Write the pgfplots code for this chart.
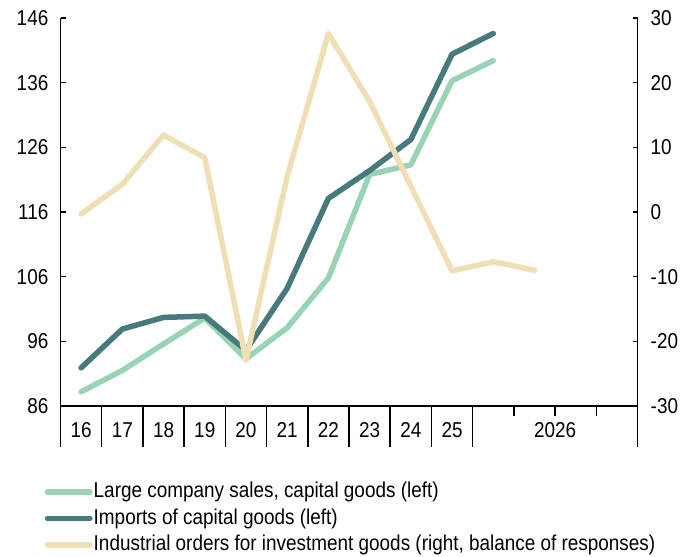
\documentclass[border=0pt]{standalone}
\usepackage{fontspec}
\setmainfont[FakeStretch=0.88]{Liberation Sans}
\usepackage{pgfplots}
\pgfplotsset{compat=1.18}
\definecolor{cgreen}{RGB}{152,211,182}
\definecolor{cdark}{RGB}{70,122,124}
\definecolor{cbeige}{RGB}{240,222,180}
\begin{document}
\fontsize{21.5}{25}\selectfont
\begin{tikzpicture}
\useasboundingbox (0,0) rectangle (684pt,556pt);
\pgfplotsset{
  every axis/.append style={
    scale only axis, width=577pt, height=388pt,
    at={(60.5pt,150pt)}, anchor=south west,
    xmin=0, xmax=14, clip=false,
    /pgf/number format/assume math mode=true,
    axis line style={line width=1.5pt},
    every tick/.append style={black, line width=1.5pt},
    major tick length=5pt,
    every non boxed y axis/.append style={ytick align=outside},
    every non boxed x axis/.append style={xtick align=outside},
  },
  mystyle/.style={line width=5.5pt, line cap=round, line join=round},
}
\begin{axis}[
  axis y line*=left, axis x line*=bottom,
  ymin=86, ymax=146, ytick={86,96,...,146},
  xtick={0.5,1.5,...,9.5,12},
  xticklabels={16,17,18,19,20,21,22,23,24,25,2026},
  xtick style={draw=none},
  xticklabel style={anchor=center, yshift=-24pt},
  yticklabel style={anchor=east, inner sep=0pt, xshift=-12pt},
]
\pgfplotsinvokeforeach{0,1,2,3,4,5,6,7,8,9,10,14}{
  \draw[line width=1.5pt] (axis cs:#1,86) -- ([yshift=-41pt]axis cs:#1,86);
}
\pgfplotsinvokeforeach{11,12,13}{
  \draw[line width=1.5pt] (axis cs:#1,86) -- ([yshift=-10pt]axis cs:#1,86);
}
\addplot[mystyle, cgreen] coordinates {
  (0.5,88.2) (1.5,91.5) (2.5,95.6) (3.5,99.6) (4.5,93.3) (5.5,98.1)
  (6.5,105.8) (7.5,121.8) (8.5,123.3) (9.5,136.3) (10.5,139.4)
};
\addplot[mystyle, cdark] coordinates {
  (0.5,91.9) (1.5,97.9) (2.5,99.7) (3.5,99.9) (4.5,94.6) (5.5,104.2)
  (6.5,118.1) (7.5,122.4) (8.5,127.2) (9.5,140.4) (10.5,143.6)
};
\end{axis}
\begin{axis}[
  axis y line*=right, axis x line=none,
  ymin=-30, ymax=30, ytick={-30,-20,...,30},
  yticklabel style={anchor=west, inner sep=0pt, xshift=13pt},
  legend style={draw=none, fill=none, at={(axis description cs:-0.0277,-0.193)}, anchor=north west,
    inner sep=0pt, row sep=4.5pt,
    nodes={inner sep=1pt, text height=15.5pt, text depth=4.5pt},
    /tikz/every even column/.append style={column sep=0pt}},
  legend cell align=left,
  legend image code/.code={\draw[#1, line width=5.5pt, line cap=round] (2.75pt,0pt) -- (45.25pt,0pt);},
]
\addlegendimage{mystyle, cgreen}
\addlegendentry{Large company sales, capital goods (left)}
\addlegendimage{mystyle, cdark}
\addlegendentry{Imports of capital goods (left)}
\addplot[mystyle, cbeige] coordinates {
  (0.5,-0.3) (1.5,4.3) (2.5,11.9) (3.5,8.4) (4.5,-22.9) (5.5,5.5)
  (6.5,27.6) (7.5,17.1) (8.5,4.0) (9.5,-9.1) (10.5,-7.7) (11.5,-9.0)
};
\addlegendentry{Industrial orders for investment goods (right, balance of responses)}
\end{axis}
\end{tikzpicture}
\end{document}
